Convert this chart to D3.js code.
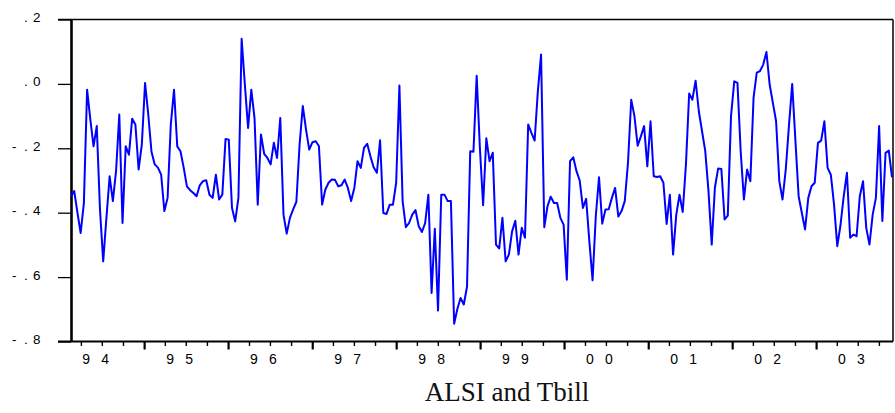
<!DOCTYPE html>
<html>
<head>
<meta charset="utf-8">
<script src="https://cdn.jsdelivr.net/npm/d3@7"></script>
<style>
  html, body { margin: 0; padding: 0; background: #fff; }
  svg { display: block; }
</style>
</head>
<body>
<svg id="chart" width="895" height="413"></svg>
<script>
const startDate = new Date(1994, 1, 17);
const stepDays = 14;
const values = [
  -0.349, -0.333, -0.40, -0.463, -0.37, -0.018, -0.11, -0.194, -0.131, -0.39,
  -0.551, -0.416, -0.287, -0.364, -0.27, -0.095, -0.432, -0.194, -0.22, -0.108,
  -0.126, -0.266, -0.188, 0.003, -0.095, -0.211, -0.25, -0.26, -0.282, -0.395,
  -0.354, -0.126, -0.018, -0.194, -0.209, -0.26, -0.318, -0.33, -0.339, -0.349,
  -0.315, -0.302, -0.299, -0.344, -0.354, -0.282, -0.359, -0.344, -0.171, -0.173,
  -0.385, -0.427, -0.354, 0.14, -0.002, -0.137, -0.018, -0.106, -0.375, -0.157,
  -0.217, -0.23, -0.25, -0.183, -0.23, -0.106, -0.406, -0.465, -0.416, -0.39,
  -0.366, -0.188, -0.069, -0.142, -0.204, -0.181, -0.178, -0.193, -0.375, -0.328,
  -0.307, -0.297, -0.298, -0.318, -0.315, -0.297, -0.323, -0.364, -0.323, -0.24,
  -0.261, -0.199, -0.186, -0.225, -0.259, -0.276, -0.175, -0.401, -0.404, -0.375,
  -0.375, -0.307, -0.005, -0.364, -0.445, -0.432, -0.406, -0.392, -0.442, -0.46,
  -0.432, -0.344, -0.649, -0.45, -0.704, -0.344, -0.344, -0.364, -0.364, -0.745,
  -0.699, -0.665, -0.685, -0.63, -0.209, -0.211, 0.025, -0.199, -0.377, -0.169,
  -0.24, -0.214, -0.499, -0.511, -0.416, -0.551, -0.53, -0.458, -0.425, -0.53,
  -0.447, -0.478, -0.126, -0.152, -0.176, -0.023, 0.091, -0.445, -0.38, -0.35,
  -0.37, -0.37, -0.416, -0.437, -0.608, -0.24, -0.228, -0.271, -0.30, -0.385,
  -0.357, -0.489, -0.61, -0.411, -0.29, -0.434, -0.39, -0.389, -0.354, -0.323,
  -0.412, -0.395, -0.364, -0.245, -0.049, -0.10, -0.192, -0.163, -0.131, -0.256,
  -0.116, -0.287, -0.289, -0.287, -0.307, -0.435, -0.344, -0.53, -0.406, -0.344,
  -0.398, -0.25, -0.03, -0.049, 0.01, -0.085, -0.147, -0.209, -0.333, -0.499,
  -0.321, -0.263, -0.264, -0.421, -0.409, -0.10, 0.008, 0.003, -0.209, -0.359,
  -0.266, -0.302, -0.043, 0.035, 0.04, 0.06, 0.099, -0.002, -0.059, -0.116,
  -0.302, -0.359, -0.266, -0.129, 0.0, -0.176, -0.349, -0.401, -0.452, -0.354,
  -0.318, -0.307, -0.183, -0.176, -0.116, -0.261, -0.282, -0.375, -0.504, -0.439,
  -0.349, -0.276, -0.478, -0.468, -0.473, -0.349, -0.302, -0.447, -0.499, -0.406,
  -0.354, -0.131, -0.426, -0.214, -0.207, -0.29
];
const yTicks = [0.2, 0.0, -0.2, -0.4, -0.6, -0.8];
const yTickLabels = [".2", ".0", "-.2", "-.4", "-.6", "-.8"];
const years = [1994, 1995, 1996, 1997, 1998, 1999, 2000, 2001, 2002, 2003];
const yearLabels = ["94", "95", "96", "97", "98", "99", "00", "01", "02", "03"];
const title = "ALSI and Tbill";

// ---- build ----
(function () {
const data = values.map((v, i) => ({ date: d3.timeDay.offset(startDate, i * stepDays), value: v }));
const svg = d3.select("#chart");
const pLeft = 71, pRight = 893, pTop = 19.5, pBottom = 341.5;

const x = d3.scaleTime()
  .domain([startDate, data[data.length - 1].date])
  .range([pLeft, 892]);
const y = d3.scaleLinear().domain([-0.8, 0.2]).range([pBottom, pTop]);

// frame (top and right)
svg.append("line").attr("x1", 58).attr("x2", pRight).attr("y1", pTop).attr("y2", pTop)
  .attr("stroke", "#000").attr("stroke-width", 1.5);
svg.append("line").attr("x1", pRight).attr("x2", pRight).attr("y1", pTop).attr("y2", pBottom)
  .attr("stroke", "#000").attr("stroke-width", 1.5);

// y axis
const yAxis = svg.append("g").attr("transform", `translate(${pLeft},0)`)
  .call(d3.axisLeft(y).tickValues(yTicks).tickSize(13).tickFormat("").tickSizeOuter(0));
yAxis.select(".domain").attr("stroke", "#000").attr("stroke-width", 2.6);
yAxis.selectAll(".tick line").attr("stroke", "#000").attr("stroke-width", 1.3);

const colX = [33, 24, 12];
yTicks.forEach((t, k) => {
  const chars = yTickLabels[k].split("");
  const txt = svg.append("text")
    .attr("font-family", "Liberation Sans, Arial, sans-serif")
    .attr("font-size", 13.5).attr("fill", "#000");
  chars.forEach((c, j) => {
    const pos = colX[chars.length - 1 - j];
    txt.append("tspan").attr("x", pos).attr("y", y(t) + 2.5).text(c);
  });
});

// x axis
const quarters = d3.timeMonth.every(3).range(x.domain()[0], x.domain()[1]);
const xAxis = svg.append("g").attr("transform", `translate(0,${pBottom})`)
  .call(d3.axisBottom(x).tickValues(quarters).tickSize(4).tickFormat("").tickSizeOuter(0));
xAxis.select(".domain").attr("d", `M58,0H${pRight}`).attr("stroke", "#000").attr("stroke-width", 2);
xAxis.selectAll(".tick line")
  .attr("stroke", "#000")
  .attr("stroke-width", d => d.getMonth() === 0 ? 2.2 : 1.4)
  .attr("y2", d => d.getMonth() === 0 ? 8 : 4.5);

years.forEach((yr, k) => {
  const x0 = x(new Date(yr, 0, 1));
  const chars = yearLabels[k].split("");
  const txt = svg.append("text")
    .attr("font-family", "Liberation Sans, Arial, sans-serif")
    .attr("font-size", 14).attr("fill", "#000");
  chars.forEach((c, j) => {
    txt.append("tspan").attr("x", x0 + 22 + j * 19).attr("y", 364).text(c);
  });
});

// series line
svg.append("path").datum(data)
  .attr("fill", "none")
  .attr("stroke", "#0000ff")
  .attr("stroke-width", 2)
  .attr("stroke-linejoin", "round")
  .attr("d", d3.line().x(d => x(d.date)).y(d => y(d.value)));

// title
svg.append("text")
  .attr("x", 507).attr("y", 401)
  .attr("text-anchor", "middle")
  .attr("font-family", "Liberation Serif, 'Times New Roman', serif")
  .attr("font-size", 27).attr("fill", "#111")
  .text(title);
})();
</script>
</body>
</html>
